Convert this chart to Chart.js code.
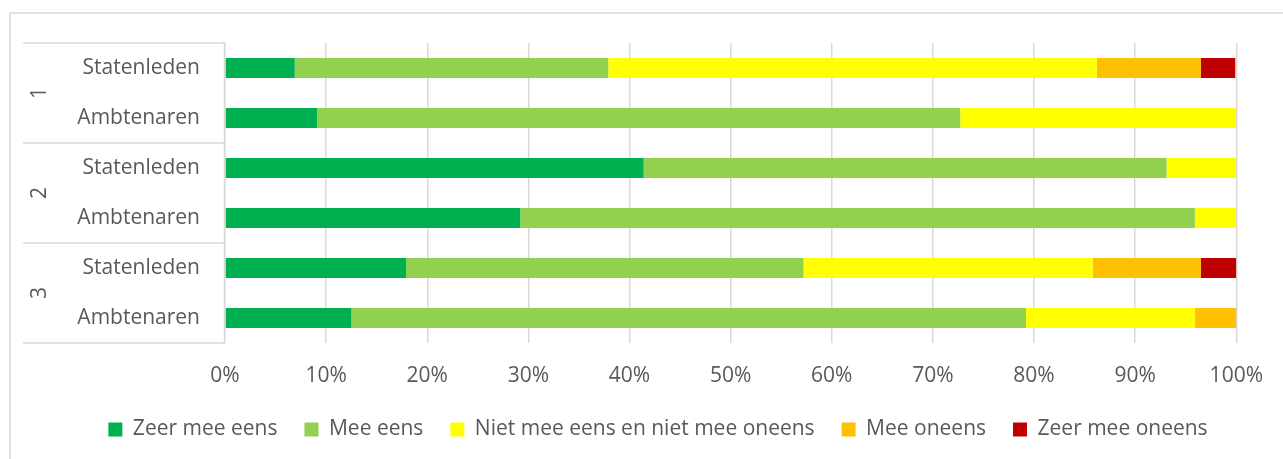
<!DOCTYPE html>
<html>
<head>
<meta charset="utf-8">
<script src="https://cdn.jsdelivr.net/npm/chart.js@4/dist/chart.umd.min.js"></script>
<style>
  html, body { margin: 0; padding: 0; background: #ffffff; }
  #wrap { position: relative; width: 1283px; height: 459px; }
</style>
</head>
<body>
<div id="wrap"><canvas id="stacked-chart"></canvas></div>
<script>
// data
var rowLabels = ["Statenleden", "Ambtenaren", "Statenleden", "Ambtenaren", "Statenleden", "Ambtenaren"];
var groupLabels = ["1", "2", "3"];
var tickLabels = ["0%", "10%", "20%", "30%", "40%", "50%", "60%", "70%", "80%", "90%", "100%"];

var zeerMeeEens = [6.9, 9.1, 41.4, 29.2, 17.9, 12.5];
var meeEens = [31.0, 63.6, 51.7, 66.7, 39.3, 66.7];
var neutraal = [48.3, 27.3, 6.9, 4.1, 28.6, 16.7];
var meeOneens = [10.3, 0, 0, 0, 10.7, 4.1];
var zeerMeeOneens = [3.4, 0, 0, 0, 3.5, 0];

var textColor = "#595959";
var lineColor = "#d9d9d9";
var fontSize = 21;

// frame, group separators and group numbers
var groupPlugin = {
  id: "groupLabels",
  beforeDraw: function (chart) {
    var c = chart.ctx;
    c.save();
    c.strokeStyle = lineColor;
    c.lineWidth = 1.5;
    c.strokeRect(10, 13, 1300, 500);
    c.restore();
  },
  afterDraw: function (chart) {
    var c = chart.ctx;
    var y = chart.scales.y;
    var area = chart.chartArea;
    var bounds = [area.top];
    for (var g = 0; g < groupLabels.length; g++) {
      var last = g * 2 + 1;
      if (last < rowLabels.length - 1) {
        bounds.push((y.getPixelForValue(last) + y.getPixelForValue(last + 1)) / 2);
      }
    }
    bounds.push(area.bottom);

    c.save();
    c.strokeStyle = lineColor;
    c.lineWidth = 1.5;
    bounds.forEach(function (b) {
      c.beginPath();
      c.moveTo(23, b);
      c.lineTo(area.left, b);
      c.stroke();
    });
    c.beginPath();
    c.moveTo(area.left - 0.5, area.top);
    c.lineTo(area.left - 0.5, area.bottom);
    c.stroke();

    c.fillStyle = textColor;
    c.font = fontSize + "px 'Open Sans'";
    c.textAlign = "center";
    c.textBaseline = "middle";
    for (var i = 0; i < groupLabels.length; i++) {
      var mid = (bounds[i] + bounds[i + 1]) / 2;
      c.save();
      c.translate(40, mid);
      c.rotate(-Math.PI / 2);
      c.fillText(groupLabels[i], 0, 0);
      c.restore();
    }
    c.restore();
  }
};

var ctx = document.getElementById("stacked-chart").getContext("2d");

new Chart(ctx, {
  type: "bar",
  data: {
    labels: rowLabels,
    datasets: [
      { label: "Zeer mee eens", data: zeerMeeEens, backgroundColor: "#00b050" },
      { label: "Mee eens", data: meeEens, backgroundColor: "#92d050" },
      { label: "Niet mee eens en niet mee oneens", data: neutraal, backgroundColor: "#ffff00" },
      { label: "Mee oneens", data: meeOneens, backgroundColor: "#ffc000" },
      { label: "Zeer mee oneens", data: zeerMeeOneens, backgroundColor: "#c00000" },
    ],
  },
  options: {
    indexAxis: "y",
    responsive: true,
    maintainAspectRatio: false,
    animation: false,
    datasets: {
      bar: {
        barPercentage: 0.4,
        categoryPercentage: 1.0,
        borderWidth: 0,
      },
    },
    layout: {
      padding: { left: 75, top: 43, right: 42, bottom: 9 },
    },
    plugins: {
      legend: {
        display: true,
        position: "bottom",
        labels: {
          boxWidth: 14,
          boxHeight: 14,
          padding: 27,
          color: textColor,
          font: { size: fontSize, family: "Open Sans" },
        },
      },
      tooltip: { enabled: false },
    },
    scales: {
      x: {
        stacked: true,
        min: 0,
        max: 100,
        afterFit: function (scale) { scale.height = 49; },
        grid: {
          display: true,
          color: lineColor,
          lineWidth: 1.5,
          drawTicks: false,
        },
        border: { display: false },
        ticks: {
          stepSize: 10,
          padding: 20,
          color: textColor,
          font: { size: fontSize, family: "Open Sans" },
          callback: function (value) { return tickLabels[Math.round(value / 10)]; },
        },
      },
      y: {
        stacked: true,
        afterFit: function (scale) { scale.width = 150; },
        grid: { display: false, drawTicks: false },
        border: { display: false },
        ticks: {
          padding: 25,
          color: textColor,
          font: { size: fontSize, family: "Open Sans" },
        },
      },
    },
  },
  plugins: [groupPlugin],
});
</script>
</body>
</html>
